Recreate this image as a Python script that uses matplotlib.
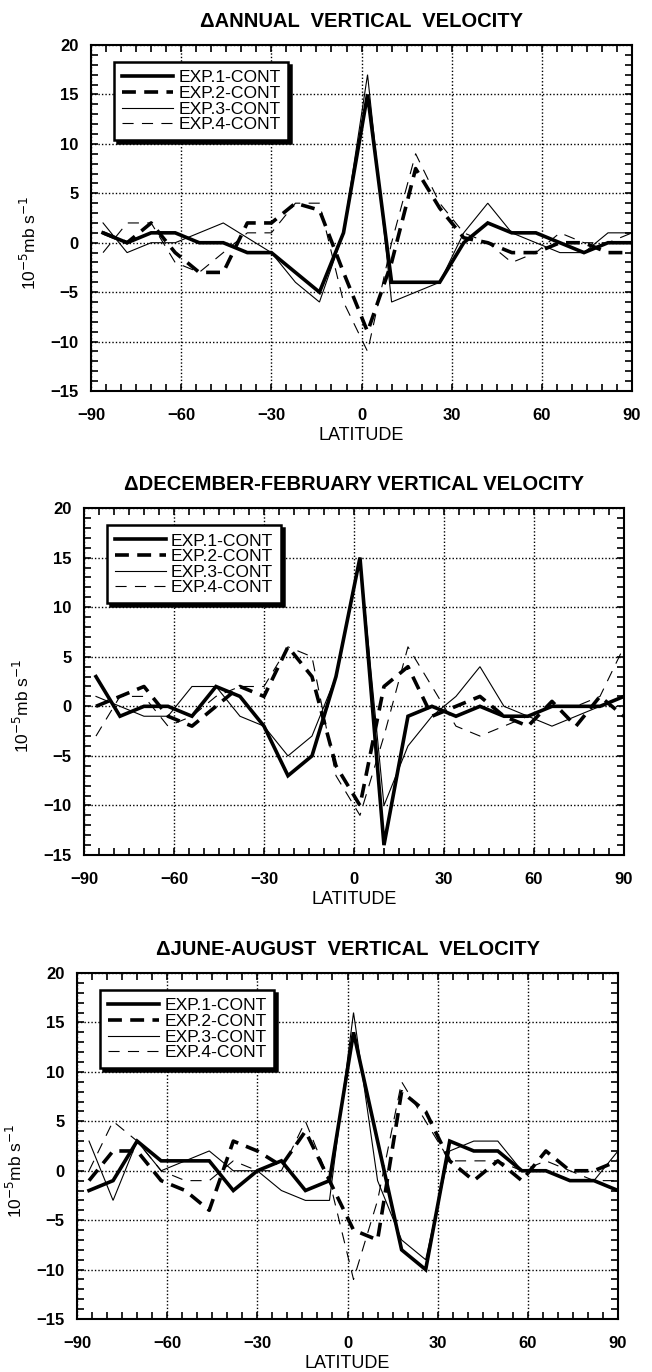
import numpy as np
import matplotlib
matplotlib.use("Agg")
import matplotlib.pyplot as plt
from matplotlib.ticker import MultipleLocator

plt.rcParams['font.family'] = ['Liberation Sans', 'DejaVu Sans']
plt.rcParams['lines.scale_dashes'] = False

# latitude of the model grid rows
lat = [-86, -78, -70, -62, -54, -46, -38, -30, -22, -14, -6, 2,
       10, 18, 26, 34, 42, 50, 58, 66, 74, 82, 90]

labels = ['EXP.1-CONT', 'EXP.2-CONT', 'EXP.3-CONT', 'EXP.4-CONT']

# annual
ann_exp1 = [1, 0, 1, 1, 0, 0, -1, -1, -3, -5, 1, 15, -4, -4, -4, 0, 2, 1, 1, 0, -1, 0, 0]
ann_exp2 = [1, 0, 2, -1, -3, -3, 2, 2, 4, 3.3, -3, -9, -2, 7.5, 3.5, 0.5, 0, -1, -1, 0, 0, -1, -1]
ann_exp3 = [2, -1, 0, 0, 1, 2, 0.5, -1, -4, -6, 1, 17, -6, -5, -4, 1, 4, 1, 0, -1, -1, 1, 1]
ann_exp4 = [-1, 2, 2, -2, -3, -1, 1, 1, 4, 4, -6, -11, 0, 9, 4, 1, 0, -2, -1, 1, 0, 0, 1]

# december-february
djf_exp1 = [3, -1, 0, 0, -1, 2, 1, -2, -7, -5, 3, 15, -14, -1, 0, -1, 0, -1, -1, 0, 0, 0, 1]
djf_exp2 = [0, 1, 2, -1, -2, 0, 2, 1, 6, 3, -6, -10, 2, 4, -1, 0, 1, -1, -2, 0.5, -2, 1, -1]
djf_exp3 = [1, 0, -1, -1, 2, 2, -1, -2, -5, -3, 3, 15, -10, -4, -1, 1, 4, 0, -1, -2, -1, 0, 1]
djf_exp4 = [-3, 1, 1, -2, -1, 1, 2, 2, 6, 5, -7, -11, -3, 6, 2, -2, -3, -2, -1, 0, 0, 1, 6]

# june-august
jja_exp1 = [-2, -1, 3, 1, 1, 1, -2, 0, 1, -2, -1, 14, 3, -8, -10, 3, 2, 2, 0, 0, -1, -1, -2]
jja_exp2 = [-1, 2, 2, -1, -2, -4, 3, 2, 0.5, 4, -1, -6, -7, 8, 6, 1, -1, 1, -1, 2, 0, 0, 1]
jja_exp3 = [3, -3, 3, 0, 1, 2, 0, 0, -2, -3, -3, 16, -1, -7, -9, 2, 3, 3, 0, 0, -1, -1, 2]
jja_exp4 = [0, 5, 3, 0, -1, -1, 1, 0, 0, 5, -1, -11, -3, 9, 5, 1, 1, 1, 0, 1, 0, -1, -1]

titles = ['\u0394ANNUAL  VERTICAL  VELOCITY',
          '\u0394DECEMBER-FEBRUARY VERTICAL VELOCITY',
          '\u0394JUNE-AUGUST  VERTICAL  VELOCITY']
panels = [[ann_exp1, ann_exp2, ann_exp3, ann_exp4],
          [djf_exp1, djf_exp2, djf_exp3, djf_exp4],
          [jja_exp1, jja_exp2, jja_exp3, jja_exp4]]
boxes = [(0.1396, 0.7150, 0.8298, 0.2522),
         (0.1288, 0.3768, 0.8282, 0.2529),
         (0.1181, 0.0386, 0.8298, 0.2522)]

styles = [dict(lw=2.6, ls='-'),
          dict(lw=2.6, dashes=(10, 6)),
          dict(lw=0.8, ls='-'),
          dict(lw=0.8, dashes=(8, 6))]

fig = plt.figure(figsize=(6.52, 13.72), dpi=100)
for title, series, box in zip(titles, panels, boxes):
    ax = fig.add_axes(box)
    for s, lab, st in zip(series, labels, styles):
        ax.plot(lat, s, color='black', label=lab, solid_joinstyle='miter', **st)
    ax.set_xlim(-90, 90)
    ax.set_ylim(-15, 20)
    ax.xaxis.set_major_locator(MultipleLocator(30))
    ax.xaxis.set_minor_locator(MultipleLocator(5))
    ax.yaxis.set_major_locator(MultipleLocator(5))
    ax.yaxis.set_minor_locator(MultipleLocator(1))
    ax.tick_params(which='both', direction='in', top=True, right=True,
                   length=5, width=1.2, labelsize=12)
    ax.tick_params(axis='x', pad=12)
    ax.tick_params(axis='y', pad=9)
    for t in ax.get_xticklabels() + ax.get_yticklabels():
        t.set_fontweight('bold')
    ax.grid(True, which='major', color='black', ls=(0, (1, 1.5)), lw=1.0)
    for sp in ax.spines.values():
        sp.set_linewidth(1.5)
    ax.set_title(title, fontsize=14.5, fontweight='bold', pad=13)
    ax.set_xlabel('LATITUDE', fontsize=13, labelpad=3)
    ax.set_ylabel('10$^{-5}$mb s$^{-1}$', fontsize=12.5)
    ax.yaxis.set_label_coords(-0.097, 0.43)
    leg = ax.legend(loc='upper left', bbox_to_anchor=(0.043, 0.95),
                    borderaxespad=0, fontsize=12.6, handlelength=2.9,
                    handletextpad=0.3, labelspacing=0.02, borderpad=0.45,
                    fancybox=False, edgecolor='black', framealpha=1,
                    shadow={'color': 'black', 'alpha': 1})
    leg.get_frame().set_linewidth(1.8)

fig.savefig('out.png', dpi=100)
